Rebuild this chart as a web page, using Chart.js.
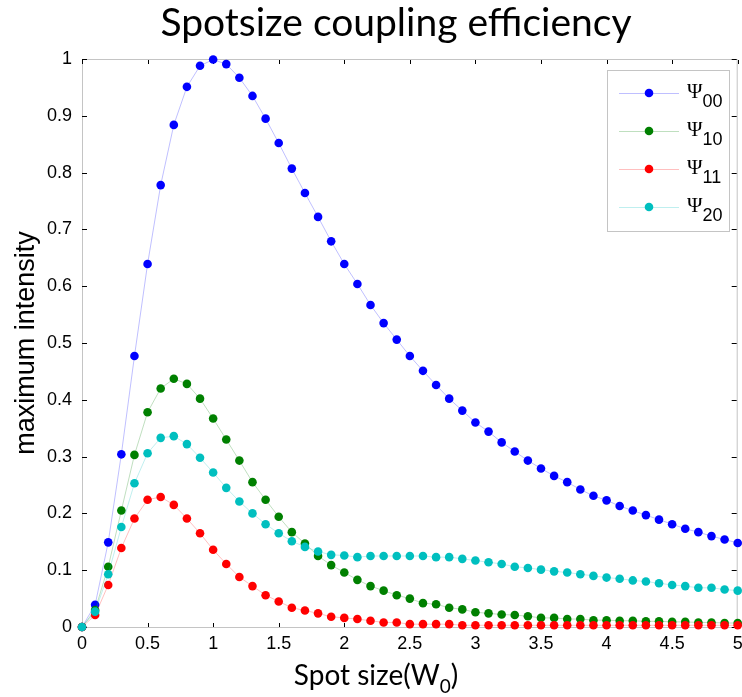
<!DOCTYPE html>
<html>
<head>
<meta charset="utf-8">
<script src="https://cdn.jsdelivr.net/npm/chart.js@4/dist/chart.umd.min.js"></script>
<style>
  body { margin: 0; background: #fff; }
  canvas { display: block; }
</style>
</head>
<body>
<canvas id="chart" width="742" height="697"></canvas>
<script>
// spot size (W0) sample points
xs = [0, 0.1, 0.2, 0.3, 0.4, 0.5, 0.6, 0.7, 0.8, 0.9,
      1, 1.1, 1.2, 1.3, 1.4, 1.5, 1.6, 1.7, 1.8, 1.9,
      2, 2.1, 2.2, 2.3, 2.4, 2.5, 2.6, 2.7, 2.8, 2.9,
      3, 3.1, 3.2, 3.3, 3.4, 3.5, 3.6, 3.7, 3.8, 3.9,
      4, 4.1, 4.2, 4.3, 4.4, 4.5, 4.6, 4.7, 4.8, 4.9, 5]

psi00 = [0, 0.039, 0.149, 0.304, 0.477, 0.639, 0.778, 0.884, 0.951, 0.988,
         0.999, 0.991, 0.967, 0.935, 0.895, 0.852, 0.807, 0.764, 0.722, 0.679,
         0.639, 0.604, 0.567, 0.535, 0.506, 0.477, 0.451, 0.426, 0.402, 0.381,
         0.360, 0.344, 0.325, 0.309, 0.293, 0.279, 0.266, 0.255, 0.242, 0.231,
         0.223, 0.213, 0.205, 0.197, 0.189, 0.181, 0.173, 0.167, 0.160, 0.154, 0.148]

psi10 = [0, 0.030, 0.106, 0.205, 0.303, 0.378, 0.420, 0.437, 0.428, 0.402,
         0.367, 0.330, 0.293, 0.255, 0.224, 0.194, 0.167, 0.147, 0.125, 0.109,
         0.096, 0.083, 0.072, 0.064, 0.056, 0.050, 0.042, 0.040, 0.034, 0.031,
         0.026, 0.024, 0.022, 0.021, 0.019, 0.016, 0.016, 0.014, 0.014, 0.012,
         0.012, 0.011, 0.011, 0.010, 0.010, 0.009, 0.009, 0.008, 0.008, 0.007, 0.007]

psi11 = [0, 0.021, 0.074, 0.139, 0.191, 0.224, 0.229, 0.215, 0.191, 0.165,
         0.136, 0.111, 0.088, 0.072, 0.056, 0.045, 0.034, 0.029, 0.024, 0.018,
         0.016, 0.014, 0.011, 0.008, 0.008, 0.005, 0.005, 0.005, 0.005, 0.003,
         0.003, 0.003, 0.003, 0.003, 0.003, 0.003, 0.003, 0.003, 0.003, 0.003,
         0.003, 0.003, 0.003, 0.003, 0.003, 0.003, 0.003, 0.003, 0.003, 0.003, 0.003]

psi20 = [0, 0.027, 0.093, 0.176, 0.253, 0.306, 0.333, 0.336, 0.322, 0.298,
         0.272, 0.245, 0.221, 0.200, 0.181, 0.165, 0.151, 0.141, 0.133, 0.127,
         0.126, 0.123, 0.125, 0.125, 0.125, 0.125, 0.125, 0.123, 0.123, 0.120,
         0.117, 0.114, 0.111, 0.106, 0.104, 0.101, 0.098, 0.096, 0.093, 0.090,
         0.087, 0.085, 0.082, 0.080, 0.077, 0.074, 0.072, 0.069, 0.069, 0.066, 0.064]

seriesNames = ['00', '10', '11', '20']
seriesValues = [psi00, psi10, psi11, psi20]
markerColors = ['#0000ff', '#008000', '#ff0000', '#00bfbf']
lineColors = ['rgba(0,0,255,0.25)', 'rgba(0,128,0,0.25)', 'rgba(255,0,0,0.25)', 'rgba(0,191,191,0.25)']

datasets = seriesValues.map(function(vals, i){
    return {
        label: 'Ψ' + seriesNames[i],
        sub: seriesNames[i],
        data: xs.map(function(x, j){ return {x: x, y: vals[j]} }),
        borderColor: lineColors[i],
        borderWidth: 1,
        backgroundColor: markerColors[i],
        pointBackgroundColor: markerColors[i],
        pointBorderWidth: 0,
        pointRadius: 4.3,
        pointHoverRadius: 4.3,
        clip: false,
        order: 4 - i
    }
})

fmt = function(v){ return String(Math.round(v * 10) / 10) }

// matlab-like box, inward ticks, texts and legend
decor = {
    id: 'decor',
    beforeDatasetsDraw: function(chart){
        ctx = chart.ctx
        a = chart.chartArea
        ctx.save()
        ctx.strokeStyle = '#c4c4c4'
        ctx.lineWidth = 1
        ctx.strokeRect(a.left + 0.5, a.top + 0.5, a.right - a.left - 1, a.bottom - a.top)
        ctx.strokeStyle = '#000'
        xScale = chart.scales.x
        xScale.ticks.forEach(function(t){
            px = Math.round(xScale.getPixelForValue(t.value)) + 0.5
            ctx.beginPath()
            ctx.moveTo(px, a.bottom); ctx.lineTo(px, a.bottom - 4)
            ctx.moveTo(px, a.top + 1); ctx.lineTo(px, a.top + 5)
            ctx.stroke()
        })
        yScale = chart.scales.y
        yScale.ticks.forEach(function(t){
            py = Math.round(yScale.getPixelForValue(t.value)) + 0.5
            ctx.beginPath()
            ctx.moveTo(a.left, py); ctx.lineTo(a.left + 5, py)
            ctx.moveTo(a.right - 1, py); ctx.lineTo(a.right - 6, py)
            ctx.stroke()
        })
        ctx.restore()
    },
    afterDraw: function(chart){
        ctx = chart.ctx
        ctx.save()
        ctx.fillStyle = '#000'
        // title
        ctx.font = '39px Lato'
        ctx.textAlign = 'center'
        ctx.textBaseline = 'alphabetic'
        ctx.fillText('Spotsize coupling efficiency', 396, 36)
        // x label with subscript
        ctx.textAlign = 'left'
        main = 'Spot size(W'
        ctx.font = '28px Lato'
        w1 = ctx.measureText(main).width
        ctx.font = '19px Lato'
        w2 = ctx.measureText('0').width
        ctx.font = '28px Lato'
        w3 = ctx.measureText(')').width
        x0 = 376 - (w1 + w2 + w3) / 2
        ctx.fillText(main, x0, 685)
        ctx.font = '19px Lato'
        ctx.fillText('0', x0 + w1, 693)
        ctx.font = '28px Lato'
        ctx.fillText(')', x0 + w1 + w2, 685)
        // y label
        ctx.save()
        ctx.translate(34, 343)
        ctx.rotate(-Math.PI / 2)
        ctx.textAlign = 'center'
        ctx.font = '27px "Liberation Sans"'
        ctx.fillText('maximum intensity', 0, 0)
        ctx.restore()
        // legend
        ctx.fillStyle = '#fff'
        ctx.fillRect(607, 70, 122, 161)
        ctx.strokeStyle = '#c4c4c4'
        ctx.strokeRect(607.5, 70.5, 122, 161)
        chart.data.datasets.forEach(function(ds, i){
            ry = 93 + i * 38
            ctx.strokeStyle = ds.borderColor
            ctx.lineWidth = 1
            ctx.beginPath()
            ctx.moveTo(619, ry + 0.5); ctx.lineTo(679, ry + 0.5)
            ctx.stroke()
            ctx.fillStyle = ds.backgroundColor
            ctx.beginPath()
            ctx.arc(649, ry, 4.3, 0, Math.PI * 2)
            ctx.fill()
            ctx.fillStyle = '#000'
            ctx.textAlign = 'left'
            ctx.font = '21px "Liberation Serif"'
            ctx.fillText('Ψ', 687, ry + 5)
            pw = ctx.measureText('Ψ').width
            ctx.font = '18px "Liberation Sans"'
            ctx.fillText(ds.sub, 687 + pw, ry + 14)
        })
        ctx.restore()
    }
}

chart = new Chart(document.querySelector('#chart'), {
    type: 'line',
    data: { datasets: datasets },
    options: {
        responsive: false,
        animation: false,
        layout: { padding: { top: 59, right: 2, left: 0, bottom: 0 } },
        plugins: {
            legend: { display: false },
            title: { display: false },
            tooltip: { enabled: false }
        },
        scales: {
            x: {
                type: 'linear',
                min: 0,
                max: 5,
                ticks: {
                    stepSize: 0.5,
                    padding: 6,
                    color: '#000',
                    font: { family: '"Liberation Sans"', size: 18 },
                    maxRotation: 0,
                    callback: fmt
                },
                grid: { display: false, drawTicks: false },
                border: { display: false },
                afterFit: function(s){ s.height = 70; s.paddingLeft = 0; s.paddingRight = 0 }
            },
            y: {
                min: 0,
                max: 1,
                ticks: {
                    stepSize: 0.1,
                    padding: 10,
                    color: '#000',
                    font: { family: '"Liberation Sans"', size: 18 },
                    callback: fmt
                },
                grid: { display: false, drawTicks: false },
                border: { display: false },
                afterFit: function(s){ s.width = 82; s.paddingTop = 0; s.paddingBottom = 0 }
            }
        }
    },
    plugins: [decor]
})
</script>
</body>
</html>
